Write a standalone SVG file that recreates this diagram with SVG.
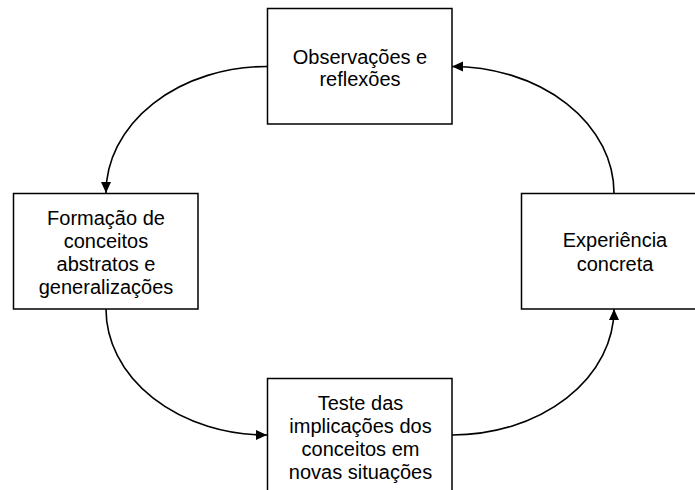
<svg xmlns="http://www.w3.org/2000/svg" width="695" height="490" viewBox="0 0 695 490">
<style>
.box{fill:#fff;stroke:#000;stroke-width:1.5}
.lbl{font-family:"Liberation Sans",Arial,sans-serif;font-size:20px;fill:#000;text-anchor:middle}
.con{fill:none;stroke:#000;stroke-width:1.6;marker-end:url(#arr)}
</style>
<defs>
<marker id="arr" markerUnits="userSpaceOnUse" markerWidth="12" markerHeight="11" refX="11" refY="5" orient="auto">
<path d="M0,0 L11,5 L0,10 Z" fill="#000"/>
</marker>
</defs>
<rect width="695" height="490" fill="#fff"/>
<g id="connectors">
<path class="con" d="M267,66.5 A161,126.5 0 0 0 106,193"/>
<path class="con" d="M106,309 A161,126 0 0 0 267,435"/>
<path class="con" d="M452,435 A162,126 0 0 0 614,309"/>
<path class="con" d="M614,193 A162,126.5 0 0 0 452,66.5"/>
</g>
<g id="observacoes">
<rect class="box" x="267.5" y="8.5" width="184.5" height="115.5"/>
<text class="lbl" x="360" y="63.5">Observações e</text>
<text class="lbl" x="360" y="85.5">reflexões</text>
</g>
<g id="formacao">
<rect class="box" x="13.5" y="193.5" width="184.5" height="115.5"/>
<text class="lbl" x="106" y="225">Formação de</text>
<text class="lbl" x="106" y="248">conceitos</text>
<text class="lbl" x="106" y="271">abstratos e</text>
<text class="lbl" x="106" y="294">generalizações</text>
</g>
<g id="teste">
<rect class="box" x="267.5" y="378.5" width="184.5" height="125"/>
<text class="lbl" x="360.5" y="410">Teste das</text>
<text class="lbl" x="360.5" y="433">implicações dos</text>
<text class="lbl" x="360.5" y="455.8">conceitos em</text>
<text class="lbl" x="360.5" y="478.5">novas situações</text>
</g>
<g id="experiencia">
<rect class="box" x="521.5" y="193.5" width="186" height="115.5"/>
<text class="lbl" x="615" y="247.3">Experiência</text>
<text class="lbl" x="615" y="270.7">concreta</text>
</g>
</svg>
